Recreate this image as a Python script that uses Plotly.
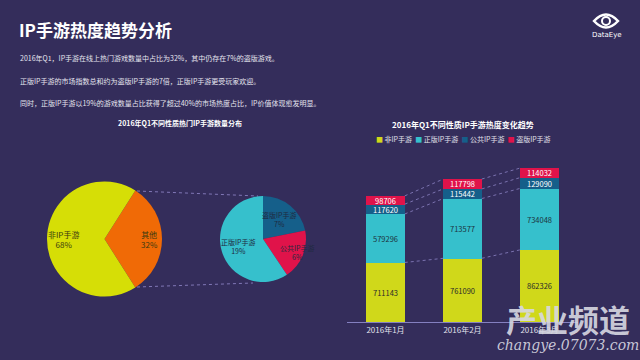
import math
import plotly.graph_objects as go

W, H = 640, 360
BG = "#342d5b"
FONT = "Noto Sans CJK SC"

# ---------------- data ----------------
pie1_labels = ["其他", "非IP手游"]
pie1_values = [32, 68]
pie1_colors = ["#f06a06", "#d6de06"]

pie2_labels = ["盗版IP手游", "公共IP手游", "正版IP手游"]
pie2_values = [7, 6, 19]
pie2_colors = ["#155f8a", "#e0134a", "#36c0cc"]

months = ["2016年1月", "2016年2月", "2016年3月"]
series_names = ["非IP手游", "正版IP手游", "公共IP手游", "盗版IP手游"]
non_ip = [711143, 761090, 862326]
official_ip = [579296, 713577, 734048]
public_ip = [117620, 115442, 129090]
pirate_ip = [98706, 117798, 114032]
series_values = [non_ip, official_ip, public_ip, pirate_ip]
series_colors = ["#d0d81a", "#36c0cc", "#155f8a", "#e0134a"]
series_text_colors = ["#2a2a2a", "#1d3440", "#ffffff", "#ffffff"]

text_lines = [
    "2016年Q1，IP手游在线上热门游戏数量中占比为32%，其中仍存在7%的盗版游戏。",
    "正版IP手游的市场指数总和约为盗版IP手游的7倍，正版IP手游更受玩家欢迎。",
    "同时，正版IP手游以19%的游戏数量占比获得了超过40%的市场热度占比，IP价值体现愈发明显。",
]


def px(x):
    return x / W


def py(y):
    return 1 - y / H


# pie geometry (pixels)
P1 = dict(cx=104.5, cy=239, r=57.5, rot=32.4)
P2 = dict(cx=263, cy=239, r=43, rot=0.0)

fig = go.Figure()

fig.add_trace(go.Pie(
    labels=pie1_labels, values=pie1_values, sort=False, direction="clockwise",
    rotation=P1["rot"], marker=dict(colors=pie1_colors, line=dict(width=0)),
    domain=dict(x=[px(P1["cx"] - P1["r"]), px(P1["cx"] + P1["r"])],
                y=[py(P1["cy"] + P1["r"]), py(P1["cy"] - P1["r"])]),
    textinfo="none", showlegend=False, hoverinfo="label+percent",
))
fig.add_trace(go.Pie(
    labels=pie2_labels, values=pie2_values, sort=False, direction="clockwise",
    rotation=P2["rot"], marker=dict(colors=pie2_colors, line=dict(width=0)),
    domain=dict(x=[px(P2["cx"] - P2["r"]), px(P2["cx"] + P2["r"])],
                y=[py(P2["cy"] + P2["r"]), py(P2["cy"] - P2["r"])]),
    textinfo="none", showlegend=False, hoverinfo="label+value",
))

# stacked bars
xs = list(range(len(months)))
for name, vals, col, tcol in zip(series_names, series_values, series_colors, series_text_colors):
    fig.add_trace(go.Bar(
        x=xs, y=vals, name=name, marker=dict(color=col, line=dict(width=0)),
        width=0.5, text=[str(v) for v in vals], textposition="inside",
        insidetextanchor="middle", constraintext="none",
        textfont=dict(size=7.5, color=tcol, family=FONT),
        xaxis="x", yaxis="y", showlegend=False,
    ))

# dashed connectors between bar segment tops
run = [0] * len(months)
for vals in series_values:
    run = [a + b for a, b in zip(run, vals)]
    for i in range(len(months) - 1):
        fig.add_trace(go.Scatter(
            x=[i + 0.25, i + 1 - 0.25], y=[run[i], run[i + 1]],
            mode="lines", line=dict(color="rgba(160,150,220,0.65)", width=1, dash="dot"),
            showlegend=False, hoverinfo="skip", xaxis="x", yaxis="y",
        ))

fig.update_layout(
    width=W, height=H, margin=dict(l=0, r=0, t=0, b=0),
    paper_bgcolor=BG, plot_bgcolor=BG,
    barmode="stack", bargap=0,
    font=dict(family=FONT, color="#e8e8f0"),
    xaxis=dict(domain=[px(347), px(578)], range=[-0.5, 2.5], tickvals=xs, ticktext=months,
               showgrid=False, zeroline=False, showline=True, linecolor="#8480c0",
               linewidth=1, ticks="", tickfont=dict(size=8, color="#e0e0ea", family=FONT)),
    yaxis=dict(domain=[py(322), py(154.6)], range=[0, 2000000], visible=False,
               showgrid=False, zeroline=False),
    showlegend=False,
)

ann = []


def pie_labels(P, labels, values, texts, rfracs, color, size):
    tot = sum(values)
    start = P["rot"]
    for lab, v, t, rf in zip(labels, values, texts, rfracs):
        mid = start + v / tot * 360 / 2
        start += v / tot * 360
        a = math.radians(mid)
        x = P["cx"] + rf * P["r"] * math.sin(a)
        y = P["cy"] - rf * P["r"] * math.cos(a)
        ann.append(dict(text=f"{lab}<br>{t}", x=px(x), y=py(y), xanchor="center", yanchor="middle",
                        font=dict(size=size, color=color, family=FONT), showarrow=False,
                        xref="paper", yref="paper"))


pie_labels(P1, pie1_labels, pie1_values, [f"{v}%" for v in pie1_values], [0.78, 0.72], "#3a3a10", 8)
pie_labels(P2, pie2_labels, pie2_values, [f"{v}%" for v in pie2_values], [0.58, 0.85, 0.6], "#1f2a40", 7)

ann.append(dict(text="<b>IP手游热度趋势分析</b>", x=px(17), y=py(29), xanchor="left", yanchor="middle",
                font=dict(size=17, color="#ffffff", family=FONT), showarrow=False,
                xref="paper", yref="paper"))
for t, yy in zip(text_lines, [58, 81, 103]):
    ann.append(dict(text=t, x=px(18), y=py(yy), xanchor="left", yanchor="middle",
                    font=dict(size=7, color="#e4e4ee", family=FONT), showarrow=False,
                    xref="paper", yref="paper"))
ann.append(dict(text="<b>2016年Q1不同性质热门IP手游数量分布</b>", x=px(180), y=py(123),
                xanchor="center", yanchor="middle", font=dict(size=7, color="#ffffff", family=FONT),
                showarrow=False, xref="paper", yref="paper"))
ann.append(dict(text="<b>2016年Q1不同性质IP手游热度变化趋势</b>", x=px(463), y=py(124),
                xanchor="center", yanchor="middle", font=dict(size=8, color="#ffffff", family=FONT),
                showarrow=False, xref="paper", yref="paper"))
legend_text = "  ".join(f"<span style='color:{c}'>■</span> {n}" for n, c in zip(series_names, series_colors))
ann.append(dict(text=legend_text, x=px(463), y=py(139), xanchor="center", yanchor="middle",
                font=dict(size=7, color="#e0e0ea", family=FONT), showarrow=False,
                xref="paper", yref="paper"))
ann.append(dict(text="DataEye", x=px(607), y=py(35), xanchor="center", yanchor="middle",
                font=dict(size=7, color="#ffffff", family="DejaVu Sans"), showarrow=False,
                xref="paper", yref="paper"))
ann.append(dict(text="<b>产业频道</b>", x=px(568), y=py(318), xanchor="center", yanchor="middle",
                font=dict(size=31, color="rgba(215,215,225,0.92)", family=FONT), showarrow=False,
                xref="paper", yref="paper"))
ann.append(dict(text="<i>changye.07073.com</i>", x=px(568), y=py(345), xanchor="center", yanchor="middle",
                font=dict(size=14, color="rgba(215,215,225,0.92)", family="DejaVu Serif"), showarrow=False,
                xref="paper", yref="paper"))
fig.update_layout(annotations=ann)

shapes = []
for (x0, y0, x1, y1) in [(137, 191, 258, 196), (137, 287, 253, 283)]:
    shapes.append(dict(type="line", xref="paper", yref="paper", x0=px(x0), y0=py(y0),
                       x1=px(x1), y1=py(y1), line=dict(color="rgba(160,150,220,0.7)", width=1, dash="dot")))
cx, cy = 606, 21
path = (f"M {px(cx-12)},{py(cy)} Q {px(cx)},{py(cy-13)} {px(cx+12)},{py(cy)} "
        f"Q {px(cx)},{py(cy+13)} {px(cx-12)},{py(cy)} Z")
shapes.append(dict(type="path", xref="paper", yref="paper", path=path,
                   line=dict(color="#ffffff", width=2.5)))
shapes.append(dict(type="circle", xref="paper", yref="paper", x0=px(cx-4), x1=px(cx+4),
                   y0=py(cy+4), y1=py(cy-4), line=dict(color="#ffffff", width=2)))
fig.update_layout(shapes=shapes)

fig.write_html("out.html", config={"displayModeBar": False}, post_script=(
    "document.body.style.margin='0';document.body.style.padding='0';"
    f"document.body.style.background='{BG}';"
))
